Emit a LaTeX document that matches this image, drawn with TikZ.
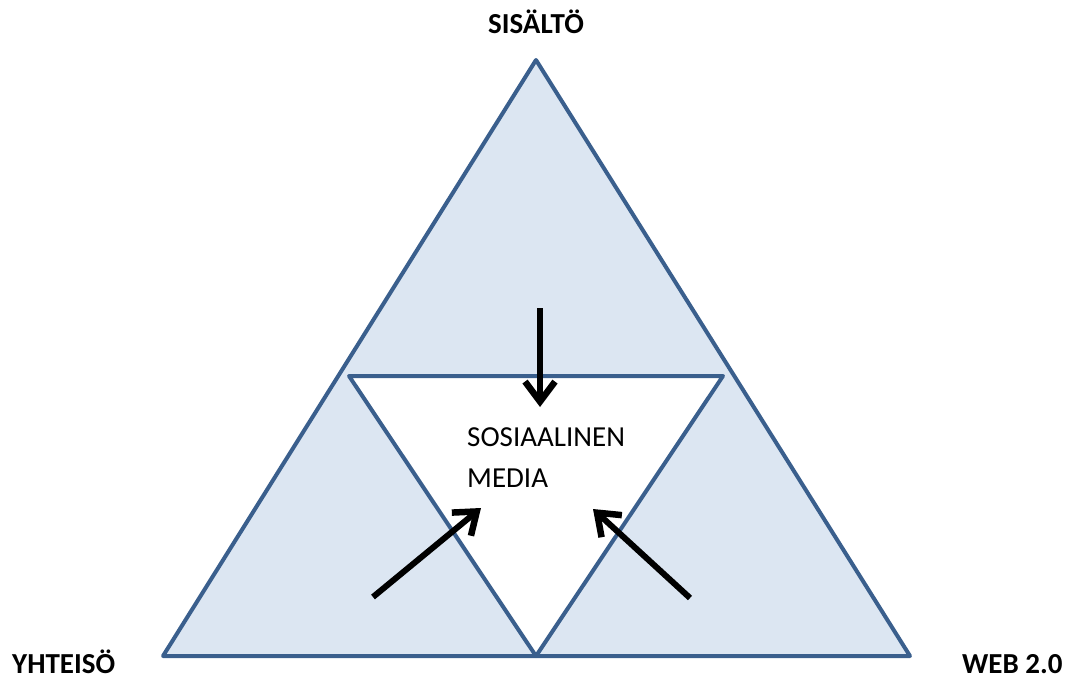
\documentclass[tikz,border=0pt]{standalone}
\usepackage{fontspec}
\setmainfont{Carlito}
\usetikzlibrary{arrows.meta}
\definecolor{panelfill}{HTML}{DCE6F2}
\definecolor{panelline}{HTML}{3A5F8D}
\begin{document}
\begin{tikzpicture}[x=1pt,y=-1pt,
  panel/.style={draw=panelline,line width=4pt,line join=round},
  flow/.style={draw=black,line width=6pt,
    -{Straight Barb[length=20pt,width=30pt,line width=6.5pt]}},
  corner/.style={font=\fontsize{29}{31}\selectfont\bfseries,inner sep=0pt},
  centre/.style={font=\fontsize{29}{31}\selectfont,inner sep=0pt,anchor=base west}]
\useasboundingbox (0,0) rectangle (1068,680);
% outer triangle
\coordinate (top) at (536,60);
\coordinate (bl) at (163,656);
\coordinate (br) at (910,656);
% inner inverted triangle
\coordinate (il) at (349,376);
\coordinate (ir) at (723,376);
\coordinate (ib) at (536,656);
\fill[panelfill] (top) -- (bl) -- (br) -- cycle;
\fill[white] (il) -- (ir) -- (ib) -- cycle;
\draw[panel] (top) -- (bl) -- (br) -- cycle;
\draw[panel] (il) -- (ir) -- (ib) -- cycle;
% labels
\node[corner,anchor=base] (sisalto) at (536,33) {SISÄLTÖ};
\node[corner,anchor=base west] (yhteiso) at (12,673) {YHTEISÖ};
\node[corner,anchor=base west] (web) at (962,673) {WEB 2.0};
\node[centre] (some1) at (467,446) {SOSIAALINEN};
\node[centre] (some2) at (467,487) {MEDIA};
% arrows towards the centre
\coordinate (a1s) at (540,308);
\coordinate (a1e) at (540,407);
\coordinate (a2s) at (373,597);
\coordinate (a2e) at (481,508);
\coordinate (a3s) at (690,598);
\coordinate (a3e) at (593,509);
\draw[flow] (a1s) -- (a1e);
\draw[flow] (a2s) -- (a2e);
\draw[flow] (a3s) -- (a3e);
\end{tikzpicture}
\end{document}
